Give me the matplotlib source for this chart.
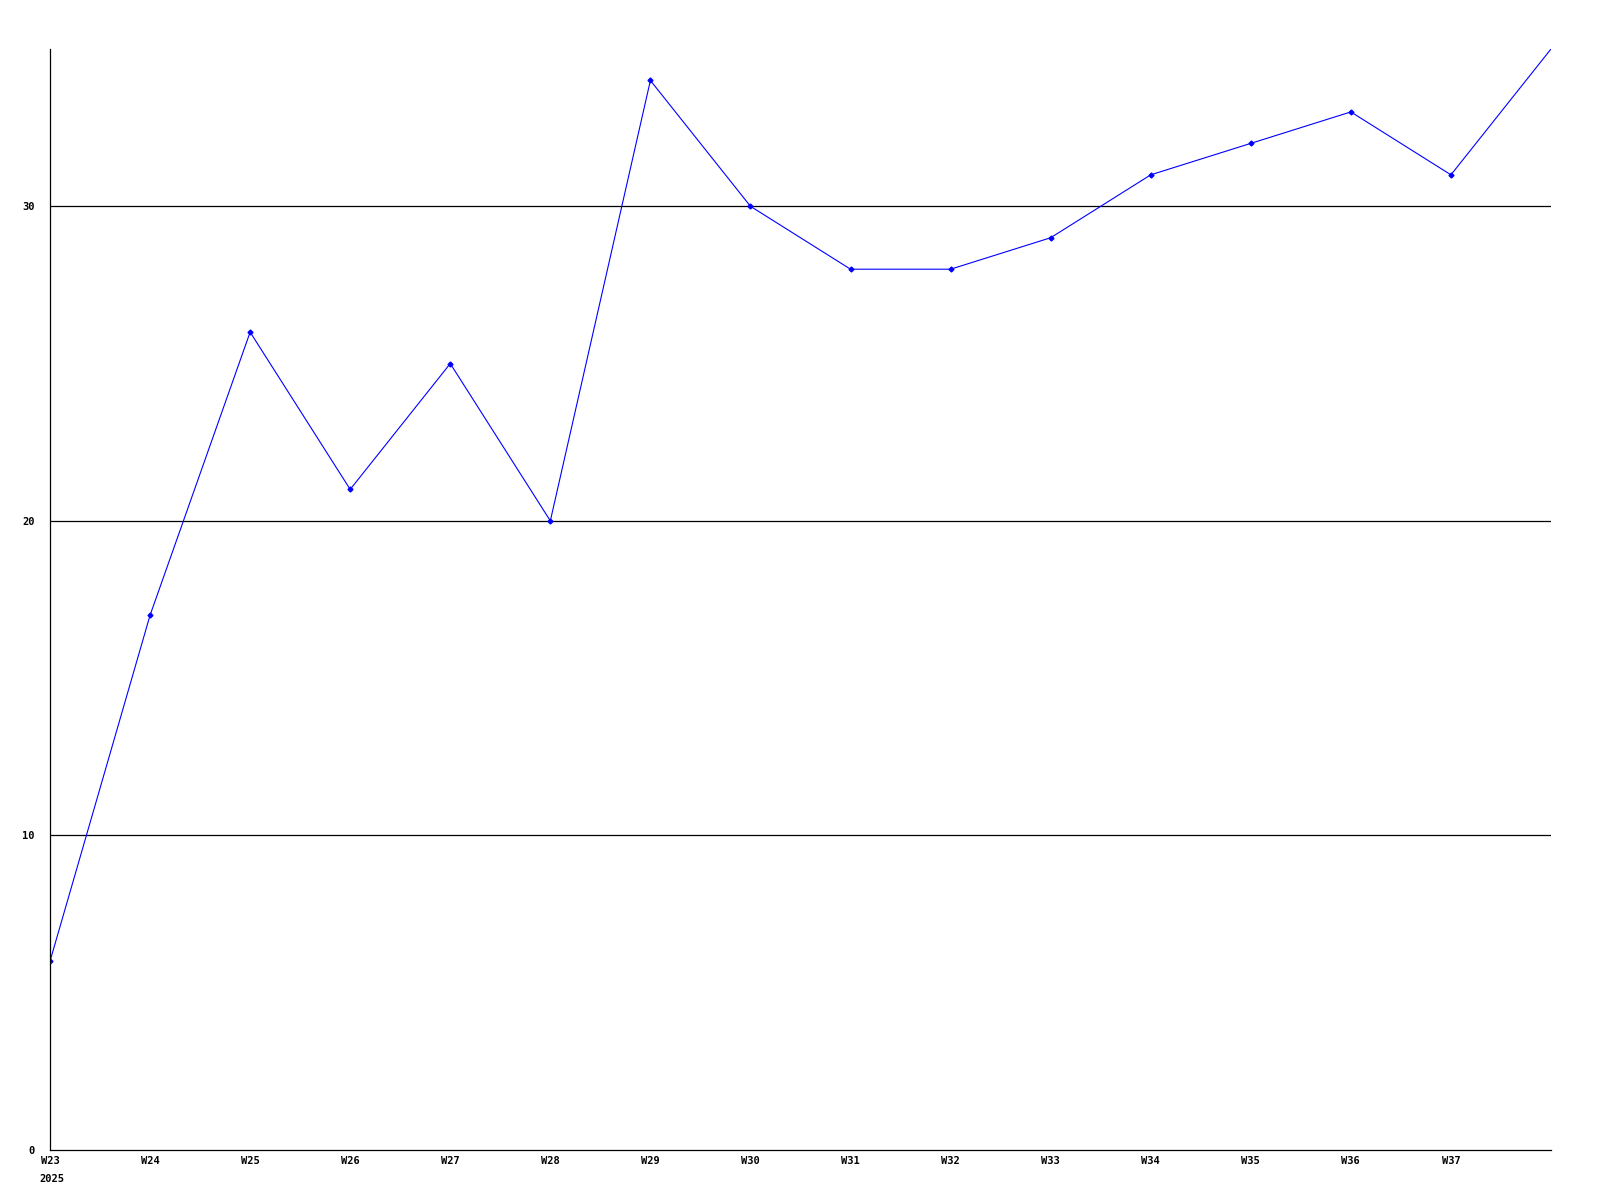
import matplotlib.pyplot as plt
import numpy as np

weeks = ['W23', 'W24', 'W25', 'W26', 'W27', 'W28', 'W29', 'W30',
         'W31', 'W32', 'W33', 'W34', 'W35', 'W36', 'W37', 'W38']
values = [6, 17, 26, 21, 25, 20, 34, 30, 28, 28, 29, 31, 32, 33, 31, 35]
y_ticks = [0, 10, 20, 30]

font = dict(family='DejaVu Sans Mono', fontweight='bold', fontsize=7.5)

fig = plt.figure(figsize=(16, 12), dpi=100)
ax = fig.add_axes([50 / 1600, 1 - 1150 / 1200, 1501 / 1600, 1101 / 1200])

x = np.arange(len(weeks))
# last point sits on the frame edge, drawn without a marker
ax.plot(x, values, color='#0000ff', linewidth=0.8, marker='D', markersize=2.5,
        markevery=list(range(len(weeks) - 1)))

ax.set_xlim(0, len(weeks) - 1)
ax.set_ylim(0, 35)

for yv in y_ticks[1:]:
    ax.axhline(yv, color='black', linewidth=0.9, zorder=0)

ax.set_yticks(y_ticks)
ax.set_yticklabels([str(v) for v in y_ticks], **font)
ax.set_xticks(x[:-1])
ax.set_xticklabels(weeks[:-1], **font)
ax.tick_params(length=0, pad=4)
ax.tick_params(axis='y', pad=11)
ax.text(-0.11, -0.022 * 35, '2025', ha='left', va='top', **font)

for s in ['top', 'right']:
    ax.spines[s].set_visible(False)
for s in ['left', 'bottom']:
    ax.spines[s].set_linewidth(0.9)

fig.savefig('out.png', dpi=100, facecolor='white')
